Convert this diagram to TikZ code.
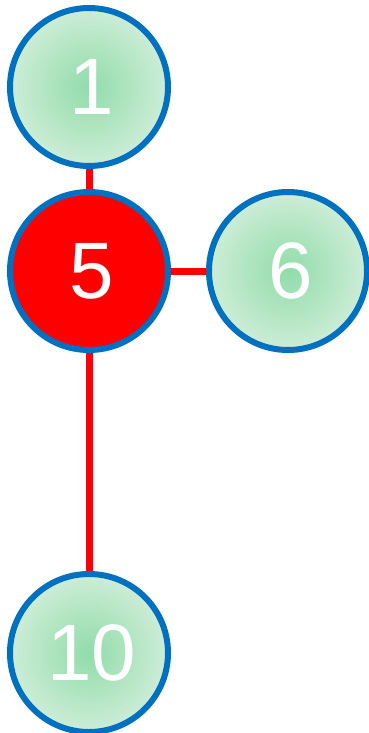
\documentclass[tikz,border=0pt]{standalone}
\usepackage{fontspec}
\setmainfont{Liberation Sans}
\definecolor{nodeblue}{RGB}{0,112,192}
\definecolor{ginner}{RGB}{145,220,170}
\definecolor{gouter}{RGB}{205,237,215}
\newcommand{\shiftnum}[1]{\hspace*{6pt}#1}
\begin{document}
\begin{tikzpicture}[x=1pt,y=-1pt,
  gnode/.style={circle,draw=nodeblue,line width=6pt,minimum size=158pt,inner sep=0pt,
    inner color=ginner,outer color=gouter,text=white,font=\fontsize{80}{80}\selectfont},
  rnode/.style={gnode,fill=red,shading=,inner color=red,outer color=red},
  edge/.style={draw=red,line width=7pt}]
\useasboundingbox (0,0) rectangle (369,733);
\draw[edge] (89,87) -- (89,271);
\draw[edge] (89,271) -- (288,271);
\draw[edge] (89,271) -- (89,653);
\node[gnode] (n1) at (89,87) {\shiftnum{1}};
\node[rnode] (n5) at (89,271) {\shiftnum{5}};
\node[gnode] (n6) at (288,271) {\shiftnum{6}};
\node[gnode] (n10) at (89,653) {\shiftnum{10}};
\end{tikzpicture}
\end{document}
